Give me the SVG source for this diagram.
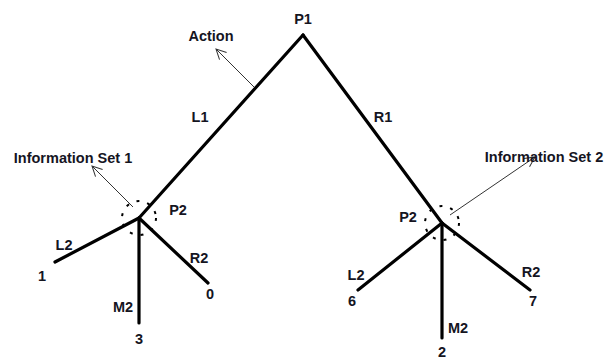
<svg xmlns="http://www.w3.org/2000/svg" width="607" height="360" viewBox="0 0 607 360">
  <style>
    .edge { stroke: #000; stroke-width: 3.2; stroke-linecap: round; fill: none; }
    .pointer { stroke: #333; stroke-width: 1; fill: none; marker-end: url(#openHead); }
    .infoset { stroke: #000; stroke-width: 2; fill: none; stroke-dasharray: 3 8; }
    text { font-family: "Liberation Sans", Arial, sans-serif; font-weight: bold; font-size: 14.5px; fill: #15151f; text-anchor: middle; }
  </style>
  <defs>
    <marker id="openHead" viewBox="0 0 12 12" refX="11" refY="6" markerWidth="12" markerHeight="12" markerUnits="userSpaceOnUse" orient="auto">
      <path d="M1,1 L11,6 L1,11" fill="none" stroke="#333" stroke-width="1"/>
    </marker>
  </defs>
  <rect width="607" height="360" fill="#fff"/>

  <g id="connectors">
    <!-- P1 branches -->
    <path class="edge" d="M303,35 L139,218"/>
    <path class="edge" d="M303,35 L442,223"/>
    <!-- left P2 branches -->
    <path class="edge" d="M139,218 L55,262"/>
    <path class="edge" d="M139,218 L139,323"/>
    <path class="edge" d="M139,218 L208,283"/>
    <!-- right P2 branches -->
    <path class="edge" d="M442,223 L358,290"/>
    <path class="edge" d="M442,223 L442,338"/>
    <path class="edge" d="M442,223 L530,290"/>
    <!-- annotation pointers -->
    <path class="pointer" d="M254,87 L216,49"/>
    <path class="pointer" d="M133,207 L92,166"/>
    <path class="pointer" d="M450,215 L535,157"/>
  </g>

  <g id="node-p1">
    <text x="303" y="24">P1</text>
  </g>
  <g id="label-action">
    <text x="211" y="41">Action</text>
  </g>
  <g id="label-l1">
    <text x="200" y="122">L1</text>
  </g>
  <g id="label-r1">
    <text x="383" y="122">R1</text>
  </g>

  <g id="node-p2-left">
    <circle class="infoset" cx="139" cy="218" r="17"/>
    <text x="178" y="215">P2</text>
  </g>
  <g id="label-infoset-1">
    <text x="73" y="163">Information Set 1</text>
  </g>
  <g id="leaf-left-l2">
    <text x="64" y="250">L2</text>
    <text x="42" y="281">1</text>
  </g>
  <g id="leaf-left-m2">
    <text x="123" y="312">M2</text>
    <text x="139" y="344">3</text>
  </g>
  <g id="leaf-left-r2">
    <text x="199" y="263">R2</text>
    <text x="210" y="299">0</text>
  </g>

  <g id="node-p2-right">
    <circle class="infoset" cx="442" cy="223" r="17"/>
    <text x="408" y="222">P2</text>
  </g>
  <g id="label-infoset-2">
    <text x="544" y="162">Information Set 2</text>
  </g>
  <g id="leaf-right-l2">
    <text x="356" y="280">L2</text>
    <text x="352" y="306">6</text>
  </g>
  <g id="leaf-right-m2">
    <text x="458" y="333">M2</text>
    <text x="442" y="357">2</text>
  </g>
  <g id="leaf-right-r2">
    <text x="531" y="277">R2</text>
    <text x="533" y="306">7</text>
  </g>
</svg>
